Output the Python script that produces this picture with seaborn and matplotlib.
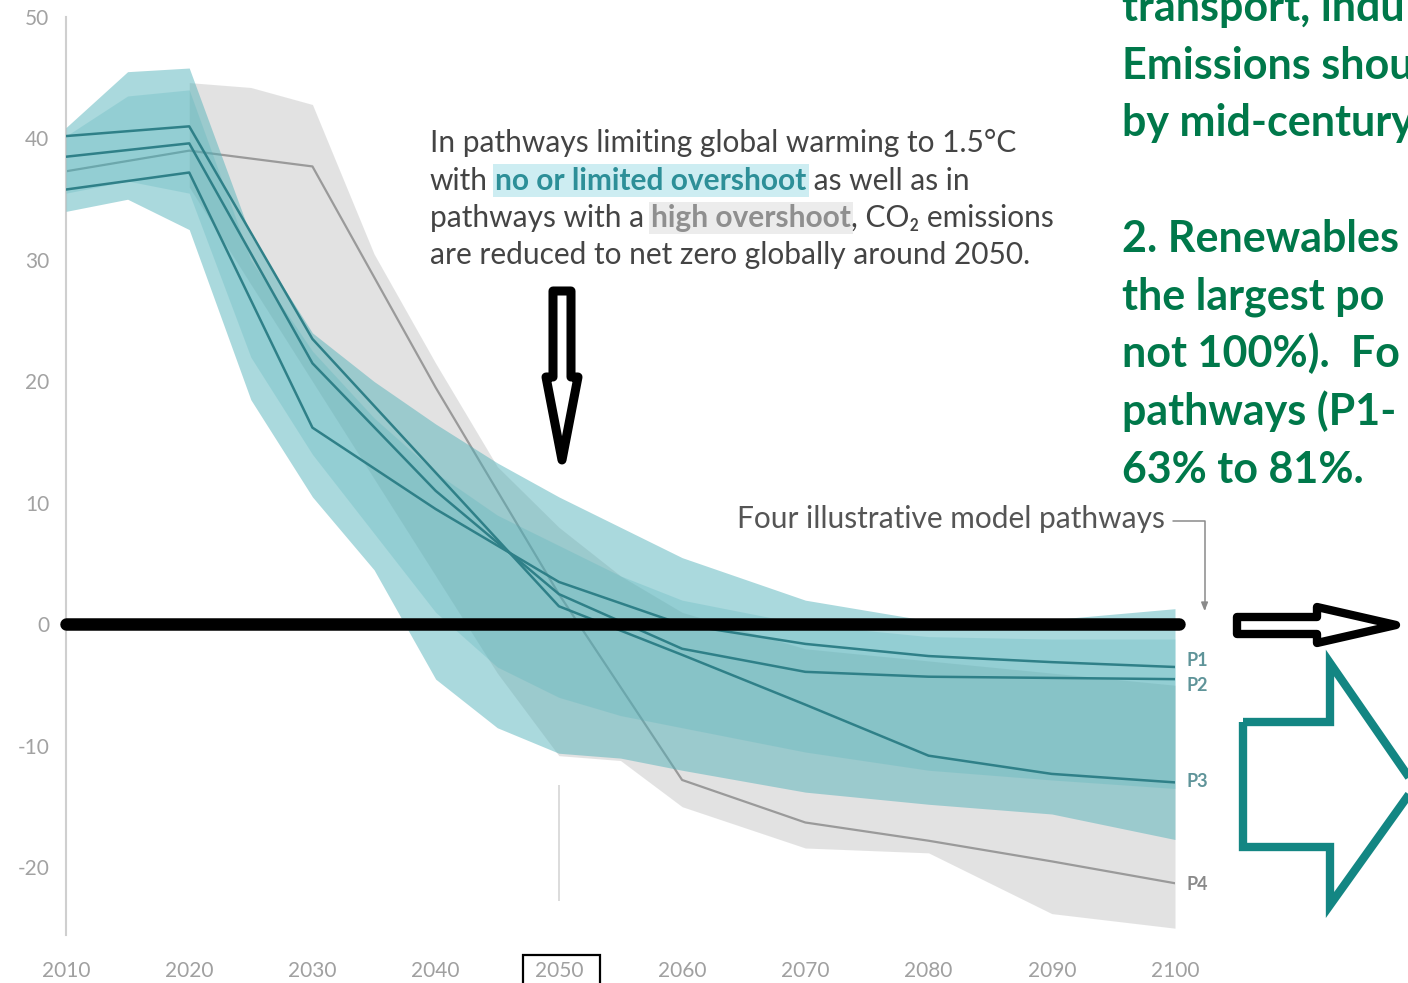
import numpy as np
import pandas as pd
import seaborn as sns
import matplotlib.pyplot as plt
from matplotlib.patches import Polygon, Rectangle

# illustrative pathways (GtCO2/yr), decadal points
YEARS = [2010, 2020, 2030, 2040, 2050, 2060, 2070, 2080, 2090, 2100]
P1 = [35.8, 37.2, 16.2, 9.5, 3.5, 0.0, -1.6, -2.6, -3.1, -3.5]
P2 = [38.5, 39.6, 21.5, 11.0, 2.5, -2.0, -3.9, -4.3, -4.4, -4.5]
P3 = [40.2, 41.0, 23.5, 12.5, 1.5, -2.5, -6.6, -10.8, -12.3, -13.0]
P4 = [37.3, 39.0, 37.7, 19.5, 2.5, -12.8, -16.3, -17.8, -19.5, -21.3]

# ranges of the scenario ensembles
ENV_YEARS = [2010, 2015, 2020, 2025, 2030, 2035, 2040, 2045, 2050, 2055, 2060, 2070, 2080, 2090, 2100]
TEAL_HI = [40.9, 45.5, 45.8, 32.0, 24.0, 20.0, 16.5, 13.3, 10.5, 8.0, 5.5, 2.0, 0.3, 0.4, 1.3]
TEAL_LO = [34.0, 35.0, 32.5, 18.5, 10.5, 4.5, -4.5, -8.5, -10.6, -11.0, -12.0, -13.8, -14.8, -15.6, -17.7]
TEAL_CORE_HI = [40.2, 43.5, 44.0, 30.0, 22.5, 17.0, 12.5, 9.0, 6.5, 4.0, 2.0, 0.0, -1.0, -1.2, -1.2]
TEAL_CORE_LO = [35.5, 36.5, 35.5, 22.0, 14.0, 7.5, 1.0, -3.5, -6.0, -7.5, -8.5, -10.5, -12.0, -12.8, -13.5]

GRAY_YEARS = [2020, 2025, 2030, 2035, 2040, 2045, 2050, 2055, 2060, 2070, 2080, 2090, 2100]
GRAY_HI = [44.6, 44.2, 42.8, 30.5, 21.5, 13.0, 8.0, 4.0, 1.0, -2.0, -3.0, -4.0, -5.0]
GRAY_LO = [36.0, 28.0, 20.0, 12.0, 4.0, -4.0, -10.8, -11.2, -15.0, -18.4, -18.8, -23.8, -25.0]

X_TICKS = list(range(2010, 2101, 10))
Y_TICKS = [50, 40, 30, 20, 10, 0, -10, -20]

GREEN_LINES = ["transport, indu", "Emissions shou", "by mid-century", "",
               "2. Renewables", "the largest po", "not 100%).  Fo",
               "pathways (P1-", "63% to 81%."]

W, H = 1408, 983
TEAL = "#4fb0b8"
DARK_TEAL = "#2f8088"

sns.set_style("white")
plt.rcParams["font.family"] = ["Lato", "DejaVu Sans"]

fig = plt.figure(figsize=(W / 100, H / 100), dpi=100)
ax = fig.add_axes([66 / W, 48 / H, (1175 - 66) / W, (935 - 17) / H])
ax.set_xlim(2010, 2100)
ax.set_ylim(-25.56, 50)


def fx(px):
    return px / W


def fy(py):
    return 1 - py / H


df = pd.DataFrame({"year": YEARS * 4,
                   "co2": P1 + P2 + P3 + P4,
                   "pathway": ["P1"] * 10 + ["P2"] * 10 + ["P3"] * 10 + ["P4"] * 10})

ax.fill_between(GRAY_YEARS, GRAY_LO, GRAY_HI, color="#d8d8d8", alpha=0.72, lw=0, zorder=1)
sns.lineplot(data=df[df.pathway == "P4"], x="year", y="co2", color="#9a9a9a",
             lw=1.6, ax=ax, zorder=2, legend=False)
ax.fill_between(ENV_YEARS, TEAL_LO, TEAL_HI, color=TEAL, alpha=0.48, lw=0, zorder=3)
ax.fill_between(ENV_YEARS, TEAL_CORE_LO, TEAL_CORE_HI, color=TEAL, alpha=0.25, lw=0, zorder=3)
sns.lineplot(data=df[df.pathway != "P4"], x="year", y="co2", hue="pathway",
             palette={"P1": DARK_TEAL, "P2": DARK_TEAL, "P3": DARK_TEAL},
             lw=1.8, ax=ax, zorder=4, legend=False)

# zero line
ax.axhline(0, xmin=0, xmax=1.004, color="black", lw=9, solid_capstyle="round",
           zorder=6, clip_on=False)
# leader line under 2050
ax.vlines(2050, -22.8, -13.2, color="#d5d5d5", lw=1.2, zorder=0)

for s in ["top", "right", "bottom"]:
    ax.spines[s].set_visible(False)
ax.spines["left"].set_color("#cfcfcf")
ax.spines["left"].set_linewidth(1.5)

ax.set_yticks(Y_TICKS)
ax.set_yticklabels([str(v) for v in Y_TICKS])
ax.tick_params(axis="y", direction="out", length=7, width=1.2, color="#c8c8c8",
               labelcolor="#a2a2a2", labelsize=15, pad=5)
ax.set_xticks(X_TICKS)
ax.set_xticklabels([str(v) for v in X_TICKS])
ax.tick_params(axis="x", direction="in", length=9, width=1.2, color="#d0d0d0",
               labelcolor="#a0a0a0", labelsize=15, pad=19)
ax.set_xlabel("")
ax.set_ylabel("")
# box around the 2050 label
fig.add_artist(Rectangle((fx(523), fy(990)), (600 - 523) / W, (990 - 955) / H,
                         fc="none", ec="black", lw=1.6, transform=fig.transFigure))

# P labels
for lab, yv, c in zip(["P1", "P2", "P3", "P4"], [-3.0, -5.0, -12.9, -21.4],
                      ["#5f9499", "#5f9499", "#5f9499", "#8a8a8a"]):
    ax.text(2100.9, yv, lab, fontsize=13, fontweight="bold", color=c,
            va="center", ha="left", clip_on=False)

# "Four illustrative model pathways" bracket
ax.text(2099.2, 8.65, "Four illustrative model pathways", fontsize=21.5,
        color="#555555", ha="right", va="center")
ax.annotate("", xy=(2102.4, 1.1), xytext=(2099.8, 8.55),
            arrowprops=dict(arrowstyle="-|>,head_length=0.5,head_width=0.2",
                            connectionstyle="angle,angleA=0,angleB=90,rad=0",
                            color="#8a8a8a", lw=1.1, shrinkA=0, shrinkB=0),
            annotation_clip=False)

# mixed-style annotation text
FS = 21.5
normal = dict(fontsize=FS, color="#444444")
teal_hl = dict(fontsize=FS, color="#2d8f98", fontweight="bold",
               bbox=dict(boxstyle="square,pad=0.08", fc="#cdedf2", ec="none"))
gray_hl = dict(fontsize=FS, color="#8f8f8f", fontweight="bold",
               bbox=dict(boxstyle="square,pad=0.08", fc="#ececec", ec="none"))
ANNOT = [
    [("In pathways limiting global warming to 1.5°C", normal)],
    [("with ", normal), ("no or limited overshoot", teal_hl), (" as well as in", normal)],
    [("pathways with a ", normal), ("high overshoot", gray_hl), (", CO₂ emissions", normal)],
    [("are reduced to net zero globally around 2050.", normal)],
]
for i, pieces in enumerate(ANNOT):
    base = 152 + 37.5 * i
    prev = None
    pgap = 0
    for txt, style in pieces:
        gap = 0
        if txt.endswith(" "):
            txt = txt.rstrip()
            gap = 5
        if prev is None:
            prev = fig.text(fx(430), fy(base), txt, va="baseline", ha="left", **style)
        else:
            prev = ax.annotate(txt, xy=(1, 0), xycoords=prev, xytext=(pgap, 0),
                               textcoords="offset points", va="bottom", ha="left",
                               annotation_clip=False, **style)
        pgap = gap

# green text
for i, line in enumerate(GREEN_LINES):
    fig.text(fx(1122), fy(21 + 57.7 * i), line, fontsize=31, fontweight="bold",
             color="#00784a", va="baseline", ha="left")

# down arrow
down = [(553, 291), (571, 291), (571, 377), (578, 377), (562, 460), (546, 377), (553, 377)]
fig.add_artist(Polygon([(fx(x), fy(y)) for x, y in down], closed=True, fc="white",
                       ec="black", lw=6.5, joinstyle="round", transform=fig.transFigure))
# right arrow
right = [(1237, 617), (1317, 617), (1317, 607), (1396, 625), (1317, 643), (1317, 634), (1237, 634)]
fig.add_artist(Polygon([(fx(x), fy(y)) for x, y in right], closed=True, fc="white",
                       ec="black", lw=6, joinstyle="round", transform=fig.transFigure))
# teal outline arrow
big = [(1243, 722), (1330, 722), (1330, 663), (1415, 786), (1330, 905), (1330, 847), (1243, 847)]
fig.add_artist(Polygon([(fx(x), fy(y)) for x, y in big], closed=True, fc="none",
                       ec="#138683", lw=6, joinstyle="miter", transform=fig.transFigure))

fig.savefig("out.png", dpi=100)
